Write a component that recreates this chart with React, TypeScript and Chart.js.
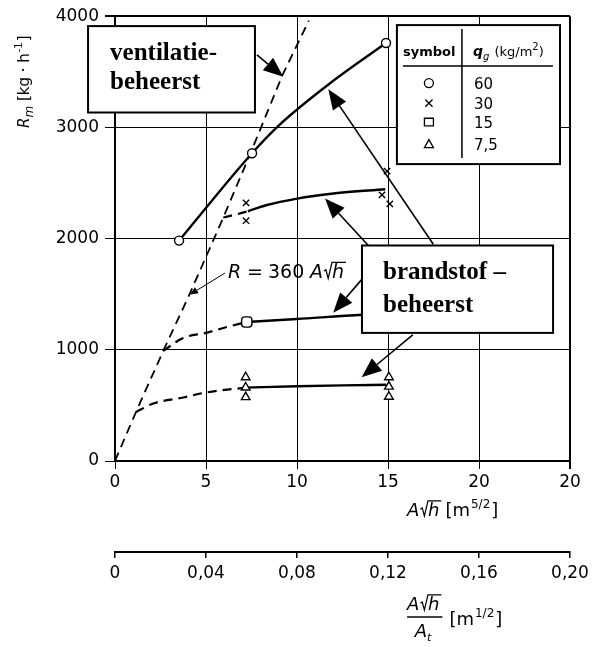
import React, { useEffect, useRef } from 'react';
import { Chart, registerables } from 'chart.js';

Chart.register(...registerables);

const FAM = '"DejaVu Sans", "Liberation Sans", Arial, sans-serif';
const SERIF = '"Liberation Serif", "Times New Roman", serif';

// Axis tick labels (the original prints "20" twice at the right end)
const xTickLabels = ['0', '5', '10', '15', '20', '20'];
const x2TickLabels = ['0', '0,04', '0,08', '0,12', '0,16', '0,20'];
const yTickLabels = ['0', '1000', '2000', '3000', '4000'];

// Ventilation-controlled line R = 360 A√h (as drawn, dashed)
const ventX = [0, 1.15, 2.65, 4.1, 5.95, 7.45, 9.2, 10.65];
const ventY = [0, 440, 990, 1500, 2190, 2770, 3470, 3960];

// q = 60 kg/m2
const q60X = [3.52, 7.53, 9.05, 11.8, 14.89];
const q60Y = [1982, 2768, 3025, 3395, 3759];

// q = 30 kg/m2
const q30DashX = [5.95, 6.6, 7.3];
const q30DashY = [2190, 2215, 2246];
const q30X = [7.3, 8.3, 10, 12, 14.85];
const q30Y = [2246, 2300, 2360, 2405, 2444];

// q = 15 kg/m2
const q15DashX = [2.65, 3.75, 5.0, 6.15, 7.24];
const q15DashY = [990, 1107, 1152, 1205, 1250];
const q15X = [7.24, 10, 13.6, 15];
const q15Y = [1250, 1277, 1315, 1322];

// q = 7.5 kg/m2
const q7DashX = [1.15, 2.1, 3.75, 5.0, 7.18];
const q7DashY = [440, 517, 571, 616, 660];
const q7X = [7.18, 10, 12.5, 14.9];
const q7Y = [660, 672, 680, 686];

// Measured points
const circleX = [3.52, 7.53, 14.89];
const circleY = [1982, 2768, 3759];
const crossX = [7.2, 7.2, 14.95, 14.67, 15.1];
const crossY = [2321, 2161, 2607, 2393, 2312];
const squareX = [7.24];
const squareY = [1250];
const triX = [7.18, 7.18, 7.18, 15.05, 15.05, 15.05];
const triY = [753, 661, 574, 753, 669, 578];

// Legend table
const legendSymbols = ['circle', 'cross', 'square', 'triangle'];
const legendValues = ['60', '30', '15', '7,5'];

const pts = (xs: number[], ys: number[]) => xs.map((x, i) => ({ x, y: ys[i] }));

function drawArrow(ctx: CanvasRenderingContext2D, x1: number, y1: number, x2: number, y2: number, headLen: number, headW: number, lw: number) {
  const ang = Math.atan2(y2 - y1, x2 - x1);
  const bx = x2 - headLen * Math.cos(ang);
  const by = y2 - headLen * Math.sin(ang);
  ctx.lineWidth = lw;
  ctx.beginPath();
  ctx.moveTo(x1, y1);
  ctx.lineTo(bx, by);
  ctx.stroke();
  ctx.beginPath();
  ctx.moveTo(x2, y2);
  ctx.lineTo(bx + headW * Math.sin(ang), by - headW * Math.cos(ang));
  ctx.lineTo(bx - headW * Math.sin(ang), by + headW * Math.cos(ang));
  ctx.closePath();
  ctx.fill();
}

function drawAsqrtH(ctx: CanvasRenderingContext2D, x: number, base: number, size: number) {
  ctx.font = `italic ${size}px ${FAM}`;
  ctx.fillText('A', x, base);
  const cx = x + ctx.measureText('A').width + 1;
  const top = base - size * 0.84;
  ctx.lineWidth = Math.max(1, size / 15);
  const hx = cx + size * 0.42;
  const hw = ctx.measureText('h').width;
  ctx.beginPath();
  ctx.moveTo(cx, base - size * 0.38);
  ctx.lineTo(cx + size * 0.1, base - size * 0.45);
  ctx.lineTo(cx + size * 0.22, base);
  ctx.lineTo(cx + size * 0.42, top);
  ctx.lineTo(hx + hw + 2, top);
  ctx.stroke();
  ctx.fillText('h', hx, base);
  return hx + hw + 3;
}

type Run = { t: string; font: string; dy?: number; dx?: number };
function drawRuns(ctx: CanvasRenderingContext2D, x: number, y: number, runs: Run[]) {
  let cx = x;
  for (const r of runs) {
    ctx.font = r.font;
    cx += r.dx || 0;
    ctx.fillText(r.t, cx, y + (r.dy || 0));
    cx += ctx.measureText(r.t).width;
  }
  return cx;
}

function drawSymbol(ctx: CanvasRenderingContext2D, kind: string, x: number, y: number, r: number) {
  ctx.lineWidth = 1.3;
  ctx.fillStyle = '#fff';
  ctx.beginPath();
  if (kind === 'circle') {
    ctx.arc(x, y, r, 0, Math.PI * 2);
    ctx.fill();
    ctx.stroke();
  } else if (kind === 'cross') {
    ctx.moveTo(x - r * 0.8, y - r * 0.8);
    ctx.lineTo(x + r * 0.8, y + r * 0.8);
    ctx.moveTo(x + r * 0.8, y - r * 0.8);
    ctx.lineTo(x - r * 0.8, y + r * 0.8);
    ctx.stroke();
  } else if (kind === 'square') {
    ctx.rect(x - r, y - r * 0.85, r * 2, r * 1.7);
    ctx.fill();
    ctx.stroke();
  } else {
    ctx.moveTo(x, y - r);
    ctx.lineTo(x + r, y + r * 0.8);
    ctx.lineTo(x - r, y + r * 0.8);
    ctx.closePath();
    ctx.fill();
    ctx.stroke();
  }
  ctx.fillStyle = '#000';
}

const annotationPlugin = {
  id: 'annotations',
  beforeDraw(chart: any) {
    const ctx = chart.ctx as CanvasRenderingContext2D;
    ctx.save();
    ctx.fillStyle = '#fff';
    ctx.fillRect(0, 0, chart.width, chart.height);
    ctx.restore();
  },
  afterDraw(chart: any) {
    const ctx = chart.ctx as CanvasRenderingContext2D;
    const xs = chart.scales.x;
    const ys = chart.scales.y;
    const x2s = chart.scales.x2;
    const px = (v: number) => xs.getPixelForValue(v);
    const py = (v: number) => ys.getPixelForValue(v);
    ctx.save();
    ctx.strokeStyle = '#000';
    ctx.fillStyle = '#000';
    ctx.textBaseline = 'alphabetic';
    ctx.textAlign = 'left';

    // --- R = 360 A√h label with leader
    {
      const ax = px(6.21), ab = py(1643);
      ctx.font = `italic 19px ${FAM}`;
      ctx.fillText('R', ax, ab);
      ctx.font = `19px ${FAM}`;
      ctx.fillText('=', ax + 19, ab);
      ctx.fillText('360', ax + 40, ab);
      drawAsqrtH(ctx, ax + 82, ab, 19);
      drawArrow(ctx, px(6.04), py(1690), px(4.12), py(1497), 8, 3.5, 1);
    }

    // --- brandstof arrows (drawn beneath the box)
    ctx.strokeStyle = '#000';
    drawArrow(ctx, px(17.49), py(1949), px(11.72), py(3342), 20, 8, 1.6);
    drawArrow(ctx, px(13.92), py(1938), px(11.54), py(2360), 20, 8, 1.6);
    drawArrow(ctx, px(13.55), py(1631), px(11.99), py(1333), 20, 8, 1.6);
    drawArrow(ctx, px(16.36), py(1134), px(13.55), py(753), 20, 8, 1.6);

    // --- ventilatie box
    {
      const l = px(-1.48), t = py(3911), r = px(7.69), b = py(3134);
      ctx.fillStyle = '#fff';
      ctx.fillRect(l, t, r - l, b - t);
      ctx.lineWidth = 2;
      ctx.strokeRect(l, t, r - l, b - t);
      ctx.fillStyle = '#000';
      ctx.font = `bold 25px ${SERIF}`;
      ctx.fillText('ventilatie-', l + 22, t + 34);
      ctx.fillText('beheerst', l + 22, t + 63);
      drawArrow(ctx, px(7.8), py(3652), px(9.25), py(3455), 20, 8, 1.6);
    }

    // --- brandstof box
    {
      const l = px(13.57), t = py(1938), r = px(24.07), b = py(1152);
      ctx.fillStyle = '#fff';
      ctx.fillRect(l, t, r - l, b - t);
      ctx.lineWidth = 2;
      ctx.strokeRect(l, t, r - l, b - t);
      ctx.fillStyle = '#000';
      ctx.font = `bold 25px ${SERIF}`;
      ctx.fillText('brandstof \u2013', l + 21, t + 34);
      ctx.fillText('beheerst', l + 21, t + 67);
    }

    // --- legend table
    {
      const l = px(15.49), t = py(3920), r = px(24.45), b = py(2670);
      ctx.fillStyle = '#fff';
      ctx.fillRect(l, t, r - l, b - t);
      ctx.lineWidth = 2;
      ctx.strokeRect(l, t, r - l, b - t);
      ctx.fillStyle = '#000';
      ctx.lineWidth = 1.5;
      ctx.beginPath();
      ctx.moveTo(l + 65, t + 4);
      ctx.lineTo(l + 65, t + 133);
      ctx.moveTo(l + 6, t + 41);
      ctx.lineTo(l + 156, t + 41);
      ctx.stroke();
      ctx.font = `bold 13px ${FAM}`;
      ctx.fillText('symbol', l + 6, t + 31);
      drawRuns(ctx, l + 76, t + 31, [
        { t: 'q', font: `italic bold 14px ${FAM}` },
        { t: 'g', font: `italic 10px ${FAM}`, dy: 4 },
        { t: ' (kg/m', font: `13px ${FAM}`, dx: 1 },
        { t: '2', font: `10px ${FAM}`, dy: -6 },
        { t: ')', font: `13px ${FAM}` },
      ]);
      const rowsY = [58, 78, 97, 119];
      legendSymbols.forEach((s, i) => {
        drawSymbol(ctx, s, l + 32, t + rowsY[i], 4.5);
        ctx.font = `15px ${FAM}`;
        ctx.fillText(legendValues[i], l + 77, t + rowsY[i] + 6);
      });
    }

    // --- y axis title (rotated)
    {
      ctx.save();
      ctx.translate(29, 128);
      ctx.rotate(-Math.PI / 2);
      drawRuns(ctx, 0, 0, [
        { t: 'R', font: `italic 15px ${FAM}` },
        { t: 'm', font: `italic 12px ${FAM}`, dy: 4 },
        { t: ' [kg \u00b7 h', font: `15px ${FAM}` },
        { t: '-1', font: `10px ${FAM}`, dy: -7, dx: 1 },
        { t: ']', font: `15px ${FAM}`, dx: 1 },
      ]);
      ctx.restore();
    }

    // --- x axis title
    {
      const x0 = px(16.05);
      const base = xs.top + 55;
      const cx = drawAsqrtH(ctx, x0, base, 18);
      drawRuns(ctx, cx + 3, base, [
        { t: '[m', font: `18px ${FAM}` },
        { t: '5/2', font: `12px ${FAM}`, dy: -8, dx: 1 },
        { t: ']', font: `18px ${FAM}`, dx: 1 },
      ]);
    }

    // --- x2 axis title (fraction)
    {
      const x0 = px(16.05);
      const top = x2s.top;
      const endNum = drawAsqrtH(ctx, x0, top + 58, 18);
      ctx.lineWidth = 1.5;
      ctx.beginPath();
      ctx.moveTo(x0, top + 65);
      ctx.lineTo(endNum, top + 65);
      ctx.stroke();
      ctx.font = `italic 18px ${FAM}`;
      const denX = x0 + (endNum - x0) / 2 - 10;
      ctx.fillText('A', denX, top + 85);
      const aw = ctx.measureText('A').width;
      ctx.font = `italic 11px ${FAM}`;
      ctx.fillText('t', denX + aw, top + 89);
      drawRuns(ctx, endNum + 7, top + 73, [
        { t: '[m', font: `18px ${FAM}` },
        { t: '1/2', font: `12px ${FAM}`, dy: -8, dx: 1 },
        { t: ']', font: `18px ${FAM}`, dx: 1 },
      ]);
    }
    ctx.restore();
  },
};

const lineDs = (label: string, xs: number[], ys: number[], dashed: boolean, width: number, tension = true) => ({
  label,
  data: pts(xs, ys),
  showLine: true,
  borderColor: '#000',
  backgroundColor: '#000',
  borderWidth: width,
  borderDash: dashed ? [9, 6] : [],
  pointRadius: 0,
  pointHoverRadius: 0,
  cubicInterpolationMode: tension ? 'monotone' : 'default',
  tension: 0,
  fill: false,
});

const markerDs = (label: string, xs: number[], ys: number[], style: string, radius: number) => ({
  label,
  data: pts(xs, ys),
  showLine: false,
  pointStyle: style,
  pointRadius: radius,
  pointBorderColor: '#000',
  pointBackgroundColor: style === 'crossRot' ? '#000' : '#fff',
  pointBorderWidth: 1.4,
});

export default function App() {
  const ref = useRef<HTMLCanvasElement | null>(null);
  useEffect(() => {
    if (!ref.current) return;
    const tickFont = { family: FAM, size: 17 };
    const chart = new Chart(ref.current, {
      type: 'scatter',
      data: {
        datasets: [
          markerDs('60', circleX, circleY, 'circle', 4.5),
          markerDs('30', crossX, crossY, 'crossRot', 4.5),
          markerDs('15', squareX, squareY, 'rectRounded', 6),
          markerDs('7.5', triX, triY, 'triangle', 5),
          lineDs('vent', ventX, ventY, true, 1.8, false),
          lineDs('q60', q60X, q60Y, false, 2.4),
          lineDs('q30d', q30DashX, q30DashY, true, 2.2),
          lineDs('q30', q30X, q30Y, false, 2.4),
          lineDs('q15d', q15DashX, q15DashY, true, 2.2),
          lineDs('q15', q15X, q15Y, false, 2.4),
          lineDs('q7d', q7DashX, q7DashY, true, 2.2),
          lineDs('q7', q7X, q7Y, false, 2.4),
        ] as any,
      },
      options: {
        responsive: false,
        animation: false,
        events: [],
        layout: { padding: { left: 0, right: 27, top: 13, bottom: 0 } },
        plugins: { legend: { display: false }, tooltip: { enabled: false } },
        scales: {
          x: {
            type: 'linear',
            position: 'bottom',
            min: 0,
            max: 25,
            ticks: {
              stepSize: 5,
              color: '#000',
              font: tickFont,
              padding: 3,
              maxRotation: 0,
              autoSkip: false,
              callback: (_v: any, i: number) => xTickLabels[i] ?? '',
            },
            grid: {
              color: '#000',
              lineWidth: (c: any) => (c.tick && c.tick.value === 25 ? 2 : 1),
              tickLength: 8,
            },
            border: { display: true, color: '#000', width: 2 },
            afterFit: (s: any) => {
              s.height = 91;
            },
          },
          x2: {
            type: 'linear',
            position: 'bottom',
            min: 0,
            max: 0.2,
            ticks: {
              stepSize: 0.04,
              color: '#000',
              font: tickFont,
              padding: 5,
              maxRotation: 0,
              autoSkip: false,
              callback: (_v: any, i: number) => x2TickLabels[i] ?? '',
            },
            grid: { drawOnChartArea: false, color: '#000', tickLength: 6, lineWidth: 1.5 },
            border: { display: true, color: '#000', width: 2 },
            afterFit: (s: any) => {
              s.height = 95;
            },
          },
          y: {
            type: 'linear',
            min: 0,
            max: 4000,
            ticks: {
              stepSize: 1000,
              color: '#000',
              font: tickFont,
              padding: 6,
              callback: (_v: any, i: number) => yTickLabels[i] ?? '',
            },
            grid: {
              color: '#000',
              lineWidth: (c: any) => (c.tick && c.tick.value === 4000 ? 2 : 1),
              tickLength: 10,
            },
            border: { display: true, color: '#000', width: 2 },
            afterFit: (s: any) => {
              s.width = 115;
            },
          },
        },
      } as any,
      plugins: [annotationPlugin],
    });
    return () => chart.destroy();
  }, []);
  return (
    <div style={{ position: 'absolute', left: 0, top: 0, width: 597, height: 647, background: '#fff' }}>
      <canvas ref={ref} width={597} height={647} style={{ display: 'block' }} />
    </div>
  );
}
